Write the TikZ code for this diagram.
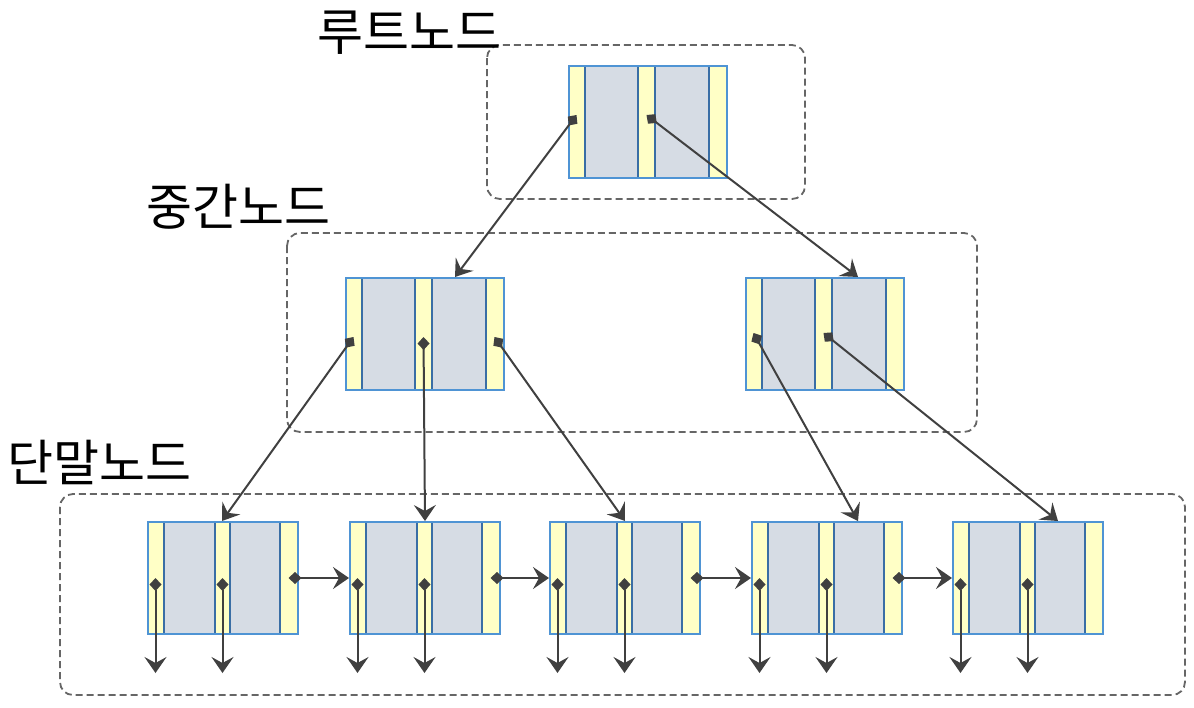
\documentclass[tikz,border=0pt]{standalone}
\usepackage{fontspec}
\newfontfamily\krfont{Noto Sans CJK KR}
\usetikzlibrary{arrows.meta}
\definecolor{ylw}{HTML}{FFFFC6}
\definecolor{gry}{HTML}{D6DCE4}
\definecolor{bdr}{HTML}{4F94D4}
\definecolor{dvd}{HTML}{3A6EA5}
\definecolor{lnc}{HTML}{404040}
\definecolor{dsh}{HTML}{666666}
\tikzset{
  grp/.style={draw=dsh,line width=1.8pt,dash pattern=on 7pt off 4pt,rounded corners=13pt},
  lbl/.style={font=\krfont\fontsize{50}{54}\selectfont,inner sep=0pt},
  ptr/.style={draw=lnc,line width=2pt,arrows={Diamond[length=13pt,width=12pt]-Stealth[length=16pt,width=22pt,inset=6pt]}},
}
% #1 name, #2 x, #3 y(top), #4 gray1 w, #5 mid yellow w, #6 gray2 w, #7 pointer y offset
\newcommand\bpnode[7]{%
  \pgfmathsetmacro\tw{34+#4+#5+#6}%
  \fill[ylw] (#2,#3) rectangle ++(\tw,112);
  \fill[gry] (#2+17,#3) rectangle ++(#4,112);
  \fill[gry] (#2+17+#4+#5,#3) rectangle ++(#6,112);
  \draw[dvd,line width=1.6pt] (#2+17,#3) -- ++(0,112)
     (#2+17+#4,#3) -- ++(0,112)
     (#2+17+#4+#5,#3) -- ++(0,112)
     (#2+17+#4+#5+#6,#3) -- ++(0,112);
  \node[draw=bdr,line width=1.8pt,minimum width=\tw pt,minimum height=112pt,inner sep=0pt,anchor=north west] (#1) at (#2,#3) {};
  \coordinate (#1-p1) at (#2+8.5,#3+#7);
  \coordinate (#1-p2) at (#2+17+#4+#5/2,#3+#7);
  \coordinate (#1-p3) at (#2+\tw-8.5,#3+#7);
}
\begin{document}
\begin{tikzpicture}[x=1pt,y=-1pt]
\useasboundingbox (0,0) rectangle (1194,707);
% group boxes
\draw[grp] (487,45) rectangle (805,199);
\draw[grp] (287,233) rectangle (977,432);
\draw[grp] (60,494) rectangle (1185,695);
% labels
\node[lbl] (lroot) at (409,33) {루트노드};
\node[lbl] (lmid) at (238,207) {중간노드};
\node[lbl] (lleaf) at (99,462) {단말노드};
% nodes
\bpnode{R}{568}{65}{53}{17}{54}{50}
\bpnode{M1}{345}{277}{53}{17}{54}{60}
\bpnode{M2}{745}{277}{53}{17}{54}{56}
\bpnode{L1}{147}{521}{51}{15}{50}{57}
\bpnode{L2}{349}{521}{51}{15}{50}{57}
\bpnode{L3}{549}{521}{51}{15}{50}{57}
\bpnode{L4}{751}{521}{51}{15}{50}{57}
\bpnode{L5}{952}{521}{51}{15}{50}{57}
% target points
\coordinate (tM1) at ([xshift=110pt]M1.north west);
\coordinate (tM2) at ([xshift=113pt]M2.north west);
\coordinate (tL1) at ([xshift=75pt]L1.north west);
\coordinate (tL2) at ([xshift=76pt]L2.north west);
\coordinate (tL3) at ([xshift=76pt]L3.north west);
\coordinate (tL4) at ([xshift=107pt]L4.north west);
\coordinate (tL5) at ([xshift=106pt]L5.north west);
% tree pointers
\draw[ptr] (R-p1) -- (tM1);
\draw[ptr] (R-p2) -- (tM2);
\draw[ptr] (M1-p1) -- (tL1);
\draw[ptr] (M1-p2) -- (tL2);
\draw[ptr] (M1-p3) -- (tL3);
\draw[ptr] (M2-p1) -- (tL4);
\draw[ptr] (M2-p2) -- (tL5);
% leaf links
\draw[ptr] (L1-p3) -- (L1-p3 -| L2.west);
\draw[ptr] (L2-p3) -- (L2-p3 -| L3.west);
\draw[ptr] (L3-p3) -- (L3-p3 -| L4.west);
\draw[ptr] (L4-p3) -- (L4-p3 -| L5.west);
% data pointers
\foreach \n in {L1,L2,L3,L4,L5}{
  \draw[ptr] (\n-p1) -- ++(0,95);
  \draw[ptr] (\n-p2) -- ++(0,95);
}
\end{tikzpicture}
\end{document}
